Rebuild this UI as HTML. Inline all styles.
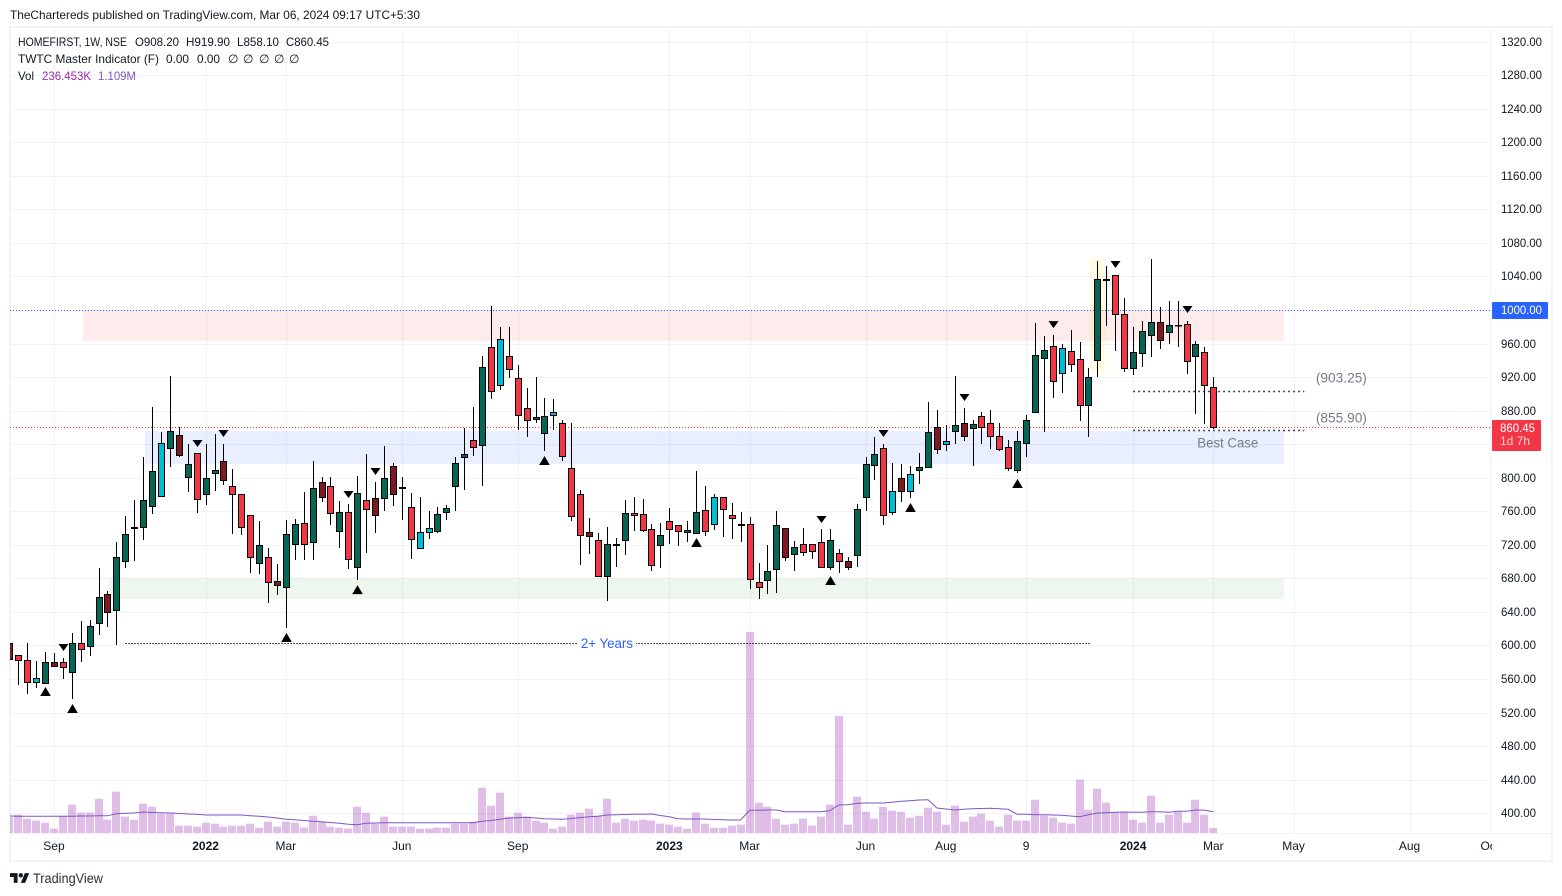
<!DOCTYPE html>
<html lang="en">
<head>
<meta charset="utf-8">
<title>HOMEFIRST weekly chart</title>
<style>
html,body{margin:0;padding:0;background:#fff;width:1562px;height:896px;overflow:hidden}
svg{display:block;font-family:"Liberation Sans",sans-serif}
text{white-space:pre}
</style>
</head>
<body>
<svg id="chart" width="1562" height="896" viewBox="0 0 1562 896" xmlns="http://www.w3.org/2000/svg">
  <defs>
    <clipPath id="pane"><rect x="10" y="27" width="1482" height="806"/></clipPath>
    <clipPath id="timeclip"><rect x="10" y="834" width="1482" height="26"/></clipPath>
  </defs>
  <text x="10" y="19" font-size="12" fill="#131722" textLength="410" lengthAdjust="spacingAndGlyphs">TheChartereds published on TradingView.com, Mar 06, 2024 09:17 UTC+5:30</text>

  <g id="frame" fill="#f0f3fa">
    <rect x="9" y="26" width="1543" height="2"/>
    <rect x="9" y="26" width="2" height="835"/>
    <rect x="1551" y="26" width="2" height="835"/>
    <rect x="9" y="860" width="1544" height="2"/>
    <rect x="10" y="833" width="1542" height="1"/>
  </g>

  <g id="grid"></g>
  <g clip-path="url(#pane)">
    <g id="zones"></g>
    <g id="volume"></g>
    <polyline id="vol-ma" fill="none" stroke="#7e57c2" stroke-width="1"></polyline>
    <g id="pricelines"></g>
    <g id="drawings"></g>
    <g id="candles"></g>
    <g id="markers"></g>
    <g id="notes"></g>
  </g>
  <g id="y-axis"></g>
  <g id="x-axis" clip-path="url(#timeclip)"></g>
  <g id="badges"></g>

  <g font-size="12" fill="#131722">
    <text x="18" y="46" textLength="109" lengthAdjust="spacingAndGlyphs">HOMEFIRST, 1W, NSE</text>
    <text x="135" y="46" textLength="44" lengthAdjust="spacingAndGlyphs">O908.20</text>
    <text x="186" y="46" textLength="44" lengthAdjust="spacingAndGlyphs">H919.90</text>
    <text x="237" y="46" textLength="42" lengthAdjust="spacingAndGlyphs">L858.10</text>
    <text x="286" y="46" textLength="43" lengthAdjust="spacingAndGlyphs">C860.45</text>
    <text x="18" y="63" textLength="141" lengthAdjust="spacingAndGlyphs">TWTC Master Indicator (F)</text>
    <text x="166" y="63" textLength="23" lengthAdjust="spacingAndGlyphs">0.00</text>
    <text x="197" y="63" textLength="23" lengthAdjust="spacingAndGlyphs">0.00</text>
    <text x="228" y="63">∅</text>
    <text x="243" y="63">∅</text>
    <text x="259" y="63">∅</text>
    <text x="274" y="63">∅</text>
    <text x="289" y="63">∅</text>
    <text x="18" y="80" textLength="16" lengthAdjust="spacingAndGlyphs">Vol</text>
    <text x="42" y="80" fill="#9c27b0" textLength="49" lengthAdjust="spacingAndGlyphs">236.453K</text>
    <text x="98" y="80" fill="#7e57c2" textLength="38" lengthAdjust="spacingAndGlyphs">1.109M</text>
  </g>

  <g>
    <g transform="translate(10,871) scale(.54)" fill="#131722">
      <path d="M14 22H7V11H0V4h14v18zM28 22h-8l7.5-18h8L28 22z"/>
      <circle cx="20" cy="8" r="4"/>
    </g>
    <text x="33" y="883" font-size="13.5" fill="#2a2e39" textLength="70" lengthAdjust="spacingAndGlyphs">TradingView</text>
  </g>
</svg>
<script>
const priceTicks = [400,440,480,520,560,600,640,680,720,760,800,840,880,920,960,1000,1040,1080,1120,1160,1200,1240,1280,1320];
const timeTickLabels = ["Sep","2022","Mar","Jun","Sep","2023","Mar","Jun","Aug","9","2024","Mar","May","Aug","Oct"];
const timeTickBars = [5,22,31,44,57,74,83,96,105,114,126,135,144,157,166];
const opens = [602.6,588.3,582.3,556.9,555.7,579.9,579.9,568.8,602.6,599.8,626.4,661,641.9,700.4,740.9,740.9,765.9,777.9,835.1,850.6,800.5,829.1,780.2,805.3,819.6,789.8,780.2,755.2,698,705.1,676.5,670.1,720.6,745.6,723,794.5,789.8,736.1,758.8,693.2,773.1,775.5,775.5,813.6,788,764.7,715.8,734.9,736.1,758.8,789.8,824.3,844.6,838.6,955.5,910.2,944.7,918.5,882.7,870.4,852.9,874.4,864.8,811.2,780.2,734.9,725.3,682.4,720,725.3,757.5,756.3,738.4,719.4,748,743.2,735.7,733.7,761.1,744.4,776.6,755.1,743.8,744.4,675.2,677.7,690.8,739.7,708.7,720.6,720.6,723,693.2,709.9,700.4,707.5,776.7,814.8,835.1,758.8,799.3,783.8,808.8,812.4,860.1,839.8,855.3,864.9,858.9,873.2,864.9,849.4,836.2,808.8,841,878,942.3,956.7,924.5,950.7,941.1,886.3,940,1036,1041.3,994.8,930.4,948.3,969.8,985.3,973.3,981.5,982.9,944.7,949.5,908.2];
const highs = [603,588.3,602.6,581.1,591.9,590.7,584.7,614.5,629.2,630.4,692,664.6,723,754,773.5,824.7,884,854.2,921.3,860.1,839.8,830,839.8,851.8,839.8,810,781,756,748,715.8,696.8,749.6,750.4,783,819.6,800.5,800.5,771.9,768.7,801.7,827.9,794.5,837.4,817.2,800.5,781.4,776.6,759.9,764.7,767.1,824.3,859.3,883.9,944.7,1004.7,979.3,979.3,934.4,906.5,919.7,894.6,893.4,868.4,864.8,784.9,751.6,733.7,740.8,727.7,773,776.6,774.2,744.4,745.6,763.5,744,748,807.6,789.7,780.2,777.5,769.4,758.7,752.7,697.9,719.4,760,740,724.2,739.7,721,738.5,738.5,714.7,705.1,768.3,824.3,848.2,839.8,817.2,816,813.6,829.1,889.9,880.4,862.5,921.3,882.8,868.5,877.9,880.4,864.9,844.6,855.3,874.4,984.1,968.6,969.8,959,975.7,961.4,930.4,1058,1052,1042,1013.9,979.3,986.5,1060.4,1003.1,1010.3,1010.3,986.5,962.6,955.5,919.9];
const lows = [583,552.9,542.2,549.3,555,574.8,560.1,536.2,580.7,587.5,612.5,622.1,600.6,692.8,701.2,726.2,757.2,777,813.2,824.3,783.4,758.4,767.9,784.6,791.8,733.3,732.2,686.8,685.7,651.1,660.2,620.9,701.9,701.9,701.9,771.1,743.7,716.2,691.2,678.1,710.3,734.1,760.7,766.3,749.6,703.1,715,727,734.5,749.6,760.7,785.8,826,790.5,894.3,905,919.3,856.9,848.9,864.8,832.2,856.5,820.3,748.8,696.3,709.4,681.2,653.4,693.9,708.2,736.9,734.9,689.2,692.7,721.3,719,723.7,733,730.9,738,729.7,727.3,723.7,667.7,655.8,661.8,663,701.2,689.2,707.1,703.5,692.5,690.4,686.8,690.4,693.2,760.8,796.9,744.1,755.2,771.5,776.3,792.2,811,827.9,831.5,839.8,843.4,813.6,840,834.6,831.5,807.6,805.2,824.3,876.8,854.1,894.7,901.4,925.7,867.2,848.2,919.7,980.5,951.5,925.7,922.1,931.6,944.3,953.1,959,956.3,923.3,876.4,864.4,858.1];
const closes = [583.5,582.3,556.9,560.9,579.9,576,574.8,602.6,595.4,622.9,657.4,639.6,705.1,732.5,739.7,773.1,807.7,841,855.3,826.7,816,774.3,799.3,808.8,796.9,780.2,740.9,705.1,719.4,676.1,672.5,732.5,744.4,720.6,787.4,776.6,757.6,758.8,702.7,781.4,762.3,755.2,799.3,780.2,788.6,726.6,734.9,739.7,756.4,763.5,817.2,827.9,836.2,931.6,903,965,929.2,874.4,868.4,872.4,873.2,877.9,825.5,753.9,731.3,730.1,682.4,720.6,720.6,757.5,755.1,737.2,695.5,731.3,738.4,736.1,737.6,758.7,736.1,776.6,762.3,751.6,744.4,678.8,669.3,688.4,743.3,705.1,717,711.1,712.3,693.2,725.4,700.4,693.2,762.4,816,827.9,755.2,783.8,783.8,804.1,812.4,854.2,833.9,843.4,862.5,849.4,863.7,860.1,849.4,833.9,811.2,843.4,868.4,945.9,951.9,914.9,954.3,935.2,886.3,919.7,1036.5,1036.5,994.8,930.4,949.5,974.5,985.3,963.8,981.7,982.5,938.8,959,910.2,860.45];
const kinds = "m r r c g m r g r g g m g g m g g c g m g r g g m r r r g r m g g r g m r g r g r m g m g r c c g g g g r g r c r r r g g c r r r m r g g g r r r g r r g g r c r r g r r g g m g r r r g r m g g g r c m c g g m c g m g r r r r g g g g r c r r g g g r r g g g m g g r g r r".split(" ");
const volumes = [752,880,688,592,496,208,832,1360,976,976,1648,640,1984,784,640,1408,1264,928,928,352,352,304,496,448,304,352,352,448,256,544,304,544,496,256,832,544,304,256,208,1264,976,448,784,304,304,304,208,208,256,256,448,448,544,2176,1312,1936,784,976,784,592,496,208,304,880,976,1168,832,1648,496,688,592,640,592,448,400,304,208,976,448,256,256,352,400,9648,1456,1264,688,400,448,688,352,784,1360,5616,400,1744,1024,688,1264,1072,1024,736,832,1216,1024,400,1312,544,784,928,592,304,880,592,592,1600,832,736,496,448,2560,1120,2128,1456,976,976,640,496,1792,496,880,1024,496,1600,880,236];
const volumeMA = [816,808,800,800,800,800,800,800,816,816,824,824,928,944,960,1008,984,968,960,936,912,896,864,864,864,864,864,832,800,768,720,656,640,600,560,544,504,464,416,400,464,480,496,496,496,492,488,488,488,488,488,488,496,560,600,660,720,736,752,720,688,670,656,696,740,780,800,864,880,888,896,904,912,840,776,688,672,672,672,650,640,624,624,1088,1096,1104,1104,1024,1024,1024,1024,1024,1072,1344,1360,1420,1440,1440,1440,1480,1520,1552,1584,1600,1200,1150,1104,1136,1168,1176,1184,1168,1136,896,896,880,872,864,848,816,784,880,960,976,992,1008,1000,1000,1024,1024,992,1040,1040,1104,1100,1024];
const upMarkerBars = [4,7,31,39,60,77,92,101,113];
const upMarkerPrices = [550.5,530.2,614.9,672,825.9,728.1,682.8,769.9,798.5];
const downMarkerBars = [6,21,24,38,41,91,98,107,117,124,132];
const downMarkerPrices = [593.4,836.6,848.5,775.8,803.2,746,848.5,891.5,978.4,1050,996.4];
const zoneStartBars = [8.25,15.2,11.17];
const zoneEndBars = [142.9,142.9,142.9];
const zoneTopPrices = [1000,855.7,680.4];
const zoneBottomPrices = [963.1,816.4,655.4];
const zoneColors = ["rgba(242,54,69,.1)","rgba(41,98,255,.1)","rgba(76,175,80,.1)"];
const drawingStartBars = [13,126,126];
const drawingEndBars = [121.2,145.2,145.2];
const drawingPrices = [602.4,903.25,856.8];
const lastPrice = 860.45;
const roundLevel = 1000;
const highlightBar = 122;
const highlightTopPrice = 1060.8;
const highlightBottomPrice = 924.9;

const NS = "http://www.w3.org/2000/svg";
const xOf = i => 9.4 + i * 8.918;
const yOf = p => 813.2 - (p - 400) * 0.8387;
const volH = v => v / 48;
const BASE = 833;
const colors = {g:"#056656", r:"#f23645", c:"#00bcd4", m:"#801922"};
function mk(tag, attrs, parent, txt){
  const el = document.createElementNS(NS, tag);
  for (const k in attrs) el.setAttribute(k, attrs[k]);
  if (txt !== undefined) el.textContent = txt;
  parent.appendChild(el);
  return el;
}
const $ = id => document.getElementById(id);

// grid
priceTicks.forEach(p => {
  const y = Math.round(yOf(p));
  const el = mk("rect", {x:10, y:y, width:1482, height:1, fill:"#f0f3fa"}, $("grid"));
  
  
});
timeTickBars.forEach(b => {
  const x = Math.round(xOf(b));
  if (x > 1492) return;
  const el = mk("rect", {x:x, y:27, width:1, height:806, fill:"#f0f3fa"}, $("grid"));
  
  
});

// zones
zoneTopPrices.forEach((p, k) => {
  const x0 = xOf(zoneStartBars[k]), x1 = xOf(zoneEndBars[k]);
  const y0 = yOf(p), y1 = yOf(zoneBottomPrices[k]);
  const el = mk("rect", {x:x0, y:y0, width:x1 - x0, height:y1 - y0, fill:zoneColors[k]}, $("zones"));
  
  
});
const hl = mk("rect", {
  x: xOf(highlightBar) - 7.3, y: yOf(highlightTopPrice),
  width: 15, height: yOf(highlightBottomPrice) - yOf(highlightTopPrice),
  fill: "rgba(255,235,59,.14)"
}, $("zones"));



// volume
volumes.forEach((v, i) => {
  const h = volH(v);
  const el = mk("rect", {x:Math.round(xOf(i)) - 4, y:BASE - h, width:8, height:h, fill:"rgba(156,39,176,.3)"}, $("volume"));
  
  
});
$("vol-ma").setAttribute("points", volumeMA.map((v, i) => xOf(i).toFixed(1) + "," + (BASE - volH(v)).toFixed(1)).join(" "));

// price lines
[[roundLevel, "#2962ff"], [lastPrice, "#f23645"]].forEach(pair => {
  const y = Math.round(yOf(pair[0])) + 0.5;
  const el = mk("line", {x1:10, x2:1492, y1:y, y2:y, stroke:pair[1], "stroke-width":1, "stroke-dasharray":"1 2"}, $("pricelines"));
  
  
});

// dotted drawings
drawingPrices.forEach((p, k) => {
  const y = Math.round(yOf(p)) + 0.5;
  const el = mk("line", {
    x1:xOf(drawingStartBars[k]), x2:xOf(drawingEndBars[k]), y1:y, y2:y,
    stroke: k === 0 ? "#131722" : "#434651",
    "stroke-width": k === 0 ? 1 : 1.5,
    "stroke-dasharray": k === 0 ? "1.5 1.5" : "2 3"
  }, $("drawings"));
  
  
});

// candles
opens.forEach((o, i) => {
  const c = closes[i];
  const cx = Math.round(xOf(i));
  const g = mk("g", {}, $("candles"));
  
  
  const yH = Math.round(yOf(highs[i])), yL = Math.round(yOf(lows[i]));
  mk("rect", {x:cx, y:yH, width:1, height:Math.max(1, yL - yH), fill:"#000"}, g);
  const top = Math.round(yOf(Math.max(o, c))), bot = Math.round(yOf(Math.min(o, c)));
  mk("rect", {
    x:cx - 2.5, y:top + 0.5, width:6, height:Math.max(0.5, bot - top),
    fill:colors[kinds[i]], stroke:"#000", "stroke-width":1
  }, g);
});

// markers
upMarkerBars.forEach((b, k) => {
  const cx = Math.round(xOf(b)) + 0.5, y = yOf(upMarkerPrices[k]);
  const el = mk("polygon", {points:`${cx},${y} ${cx + 5.3},${y + 9} ${cx - 5.3},${y + 9}`, fill:"#000"}, $("markers"));
  
  
});
downMarkerBars.forEach((b, k) => {
  const cx = Math.round(xOf(b)) + 0.5, y = yOf(downMarkerPrices[k]);
  const el = mk("polygon", {points:`${cx},${y} ${cx + 5},${y - 7} ${cx - 5},${y - 7}`, fill:"#000"}, $("markers"));
  
  
});

// annotations
const noteLabels = ["2+ Years","(903.25)","(855.90)","Best Case"];
const noteBars = [67,146.5,146.5,133.2];
const notePrices = [602.4,919,871.5,841.6];
const noteColors = ["#2962ff","#787b86","#787b86","#787b86"];
const noteWidths = [52,51,51,61];
noteLabels.forEach((t, k) => {
  const x = xOf(noteBars[k]), y = yOf(notePrices[k]);
  if (k === 0) {
    const bg = mk("rect", {x:x - 26 - 3, y:y - 8, width:noteWidths[k] + 6, height:16, fill:"#fff"}, $("notes"));
    
    
  }
  const el = mk("text", {
    x: k === 0 ? x - 26 : x, y: y + 4.5, "font-size":13.5, fill:noteColors[k],
    textLength:noteWidths[k], lengthAdjust:"spacingAndGlyphs"
  }, $("notes"), t);
  
  
});

// price axis
priceTicks.forEach(p => {
  const el = mk("text", {x:1501, y:Math.round(yOf(p)) + 4, "font-size":12, fill:"#131722", textLength:p >= 1000 ? 41 : 35, lengthAdjust:"spacingAndGlyphs"}, $("y-axis"), p.toFixed(2));
  
  
});

// time axis
timeTickLabels.forEach((t, k) => {
  const bold = /^\d{4}$/.test(t);
  const el = mk("text", {
    x:xOf(timeTickBars[k]), y:850, "font-size":12, fill:"#131722", "text-anchor":"middle",
    "font-weight": bold ? "bold" : "normal"
  }, $("x-axis"), t);
  
  
});

// badges
const levelBox = mk("rect", {x:1492, y:Math.round(yOf(roundLevel)) - 8, width:56, height:17, fill:"#2962ff", rx:1}, $("badges"));


const levelText = mk("text", {x:1501, y:Math.round(yOf(roundLevel)) + 4, "font-size":12, fill:"#fff", textLength:41, lengthAdjust:"spacingAndGlyphs"}, $("badges"), roundLevel.toFixed(2));


const lastBox = mk("rect", {x:1492, y:Math.round(yOf(lastPrice)) - 7, width:49, height:31, fill:"#f23645", rx:1}, $("badges"));


const lastText = mk("text", {x:1500, y:Math.round(yOf(lastPrice)) + 5, "font-size":12, fill:"#fff", textLength:35, lengthAdjust:"spacingAndGlyphs"}, $("badges"), lastPrice.toFixed(2));


const countdown = mk("text", {x:1500, y:Math.round(yOf(lastPrice)) + 18, "font-size":12, fill:"#fff", "fill-opacity":.8, textLength:30, lengthAdjust:"spacingAndGlyphs"}, $("badges"), "1d 7h");


</script>
</body>
</html>
